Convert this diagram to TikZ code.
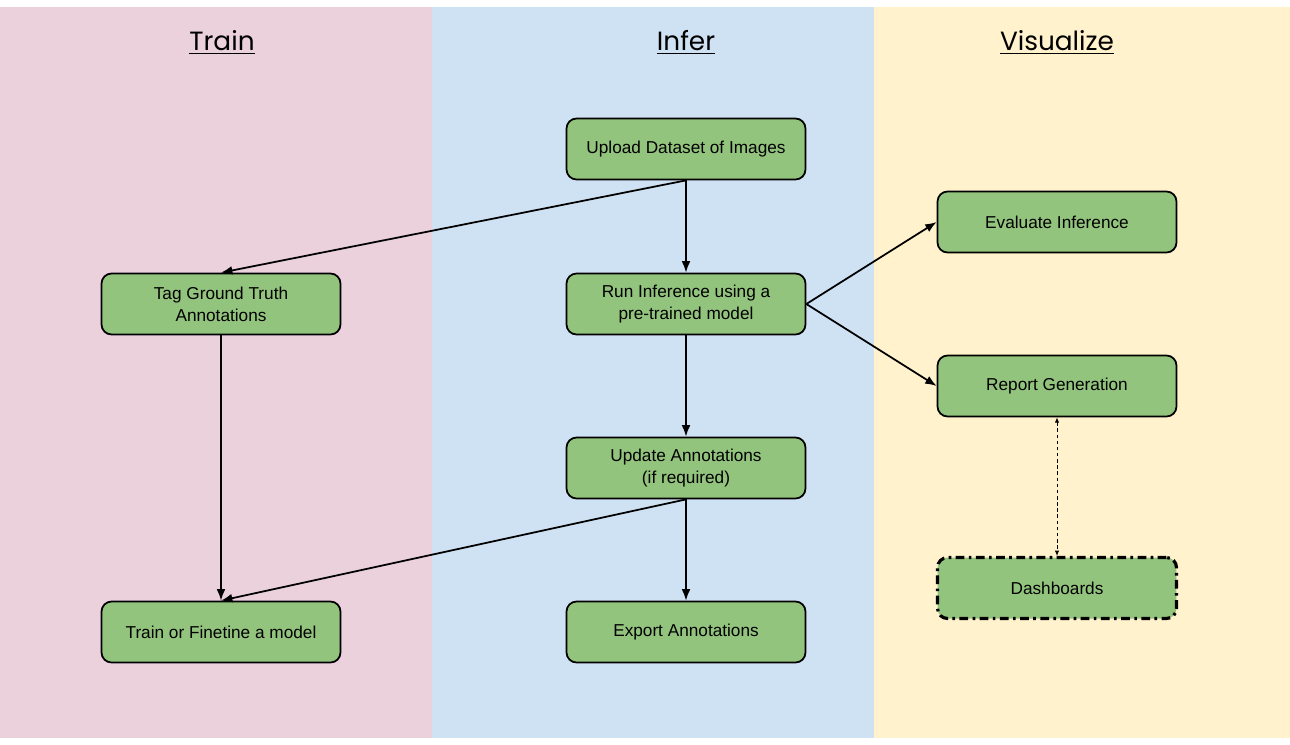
\documentclass[tikz,border=0pt]{standalone}
\usepackage{fontspec}
\setmainfont{Liberation Sans}
\newfontfamily\titlefont{Poppins}
\usetikzlibrary{arrows.meta}
\definecolor{trainbg}{HTML}{EAD1DC}
\definecolor{inferbg}{HTML}{CFE2F3}
\definecolor{visbg}{HTML}{FFF2CC}
\definecolor{boxgreen}{HTML}{93C47D}
\begin{document}
\begin{tikzpicture}[x=0.02cm,y=-0.02cm,
    box/.style={rectangle,draw,fill=boxgreen,rounded corners=0.2cm,line width=1pt,minimum width=4.78cm,minimum height=1.22cm,align=center,font=\fontsize{9.8}{12.4}\selectfont},
    title/.style={font=\titlefont\fontsize{15}{18}\selectfont},
    flow/.style={-{Latex[length=6.5pt,width=5pt]},line width=1pt}]
            \useasboundingbox (0,0) rectangle (1290,744);
            \fill[trainbg] (0,7) rectangle (432,738);
            \fill[inferbg] (432,7) rectangle (874,738);
            \fill[visbg] (874,7) rectangle (1290,738);
            \node[title] (node0) at (222,42) {\underline{Train}};
            \node[title] (node10) at (686,42) {\underline{Infer}};
            \node[title] (node20) at (1057,42) {\underline{Visualize}};
            % Train
            \node[box] (node1) at (221,304) {Tag Ground Truth\\Annotations};
            \node[box] (node2) at (221,632) {Train or Finetine a model};
            % Infer
            \node[box] (node11) at (686,149) {Upload Dataset of Images};
            \node[box] (node12) at (686,304) {Run Inference using a\\pre-trained model};
            \node[box] (node13) at (686,468) {Update Annotations\\(if required)};
            \node[box] (node14) at (686,632) {Export Annotations};
            % Visualize
            \node[box] (node21) at (1057,222) {Evaluate Inference};
            \node[box] (node22) at (1057,386) {Report Generation};
            \node[box,line width=1.8pt,dash pattern=on 5pt off 2.5pt on 1.5pt off 2.5pt] (node23) at (1057,588) {Dashboards};
            % arrows
            \draw[flow] (node11.south) -- (node1.north);
            \draw[flow] (node11.south) -- (node12.north);
            \draw[flow] (node12.south) -- (node13.north);
            \draw[flow] (node13.south) -- (node14.north);
            \draw[flow] (node13.south) -- (node2.north);
            \draw[flow] (node1.south) -- (node2.north);
            \draw[flow] (node12.east) -- (node21.west);
            \draw[flow] (node12.east) -- (node22.west);
            \draw[{Latex[length=3pt,width=2.5pt]}-{Latex[length=3pt,width=2.5pt]},line width=0.5pt,dash pattern=on 2pt off 1.5pt] (node22.south) -- (node23.north);
\end{tikzpicture}
\end{document}
